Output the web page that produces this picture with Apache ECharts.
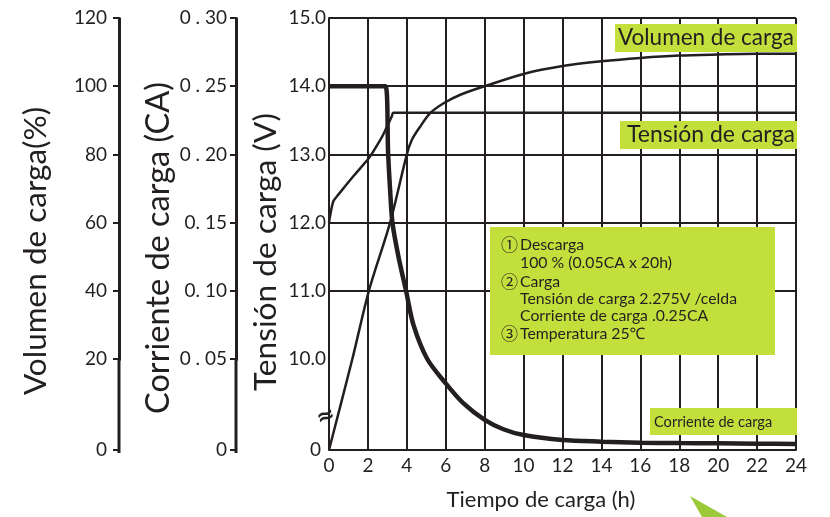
<!DOCTYPE html>
<html><head><meta charset="utf-8">
<script src="https://cdn.jsdelivr.net/npm/echarts@6/dist/echarts.min.js"></script>
<style>html,body{margin:0;padding:0;background:#fff}#c{width:830px;height:517px}</style>
</head><body><div id="c"></div>
<script>
// ---- data (hours, value) ----
const voltageV = [[0,12.0],[0.05,12.09],[0.22,12.31],[0.48,12.41],[1.25,12.68],[2.06,12.95],[2.63,13.21],[2.8,13.3],[3.23,13.56],[3.3,13.61],[24,13.61]];
const volumePct = [[0,0],[1.2,20],[2.05,40],[3.14,60],[4.0,80],[4.26,84.3],[4.69,88.2],[5.2,92.1],[5.89,95],[6.75,97.5],[8,100],[10,103.6],[12,105.9],[14,107.3],[16,108.3],[18,109],[20,109.3],[22,109.5],[24,109.5]];
const currentCA = [[0,0.25],[2.9,0.25],[3.04,0.20],[3.14,0.174],[3.26,0.15],[3.57,0.125],[3.96,0.10],[4.34,0.075],[5.05,0.05],[6.0,0.0366],[6.9,0.0257],[8.0,0.0165],[8.96,0.0114],[10,0.0082],[12,0.0055],[14,0.0046],[16,0.004],[18,0.0038],[20,0.0037],[22,0.0035],[24,0.0033]];
const infoLines = [
  ['①','Descarga'],
  ['','100 % (0.05CA x 20h)'],
  ['②','Carga'],
  ['','Tensión de carga 2.275V /celda'],
  ['','Corriente de carga .0.25CA'],
  ['③','Temperatura 25℃']
];
const FONT = 'Lato, "Noto Sans", sans-serif';
const INK = '#231f20';
const LIME = '#c2df3c';

const chart = echarts.init(document.getElementById('c'), null, {renderer:'canvas'});
const infoY = [245, 263, 281.5, 298.5, 316, 334];
const graphics = [
  {type:'text', x:36, y:251, rotation:Math.PI/2, style:{text:'Volumen de carga(%)', font:'31.5px '+FONT, fill:INK, textAlign:'center', textVerticalAlign:'middle'}},
  {type:'text', x:159, y:248, rotation:Math.PI/2, style:{text:'Corriente de carga (CA)', font:'32.5px '+FONT, fill:INK, textAlign:'center', textVerticalAlign:'middle'}},
  {type:'text', x:266, y:252, rotation:Math.PI/2, style:{text:'Tensión de carga (V)', font:'31.7px '+FONT, fill:INK, textAlign:'center', textVerticalAlign:'middle'}},
  {type:'text', x:541, y:500, style:{text:'Tiempo de carga (h)', font:'22px '+FONT, fill:INK, textAlign:'center', textVerticalAlign:'middle'}},
  {type:'rect', shape:{x:615,y:24,width:182,height:28}, style:{fill:LIME}, z:10},
  {type:'text', x:618, y:38, style:{text:'Volumen de carga', font:'22.5px '+FONT, fill:INK, textVerticalAlign:'middle'}, z:11},
  {type:'rect', shape:{x:620,y:121,width:177,height:28}, style:{fill:LIME}, z:10},
  {type:'text', x:627, y:135, style:{text:'Tensión de carga', font:'23px '+FONT, fill:INK, textVerticalAlign:'middle'}, z:11},
  {type:'rect', shape:{x:650,y:408,width:147,height:27}, style:{fill:LIME}, z:10},
  {type:'text', x:654, y:422, style:{text:'Corriente de carga', font:'14.6px '+FONT, fill:INK, textVerticalAlign:'middle'}, z:11},
  {type:'rect', shape:{x:490,y:227,width:285,height:128}, style:{fill:LIME}, z:10},
  {type:'text', x:326, y:417, rotation:0.35, style:{text:'≈', font:'bold 22px "DejaVu Sans", sans-serif', fill:INK, textAlign:'center', textVerticalAlign:'middle'}, z:11},
  {type:'polygon', shape:{points:[[690,496],[727,517],[702,517]]}, style:{fill:'#9cc93a'}, z:10}
];
infoLines.forEach((l,i)=>{
  if(l[0]) graphics.push({type:'text', x:501, y:infoY[i], style:{text:l[0], font:'17px "Noto Sans CJK JP", '+FONT, fill:INK, textVerticalAlign:'middle'}, z:11});
  graphics.push({type:'text', x:520, y:infoY[i], style:{text:l[1], font:'15.8px '+FONT, fill:INK, textVerticalAlign:'middle'}, z:11});
});

const axisText = {color:INK, fontFamily:FONT, fontSize:19};
chart.setOption({
  animation:false,
  grid:{left:329, right:34, top:18, bottom:67},
  xAxis:{type:'value', min:0, max:24, interval:2,
    axisLine:{lineStyle:{color:INK, width:2}}, axisTick:{show:false},
    splitLine:{lineStyle:{color:INK, width:2}},
    axisLabel:Object.assign({margin:6}, axisText)},
  yAxis:[
    {type:'value', position:'left', min:0, max:15, interval:1,
      breaks:[{start:0, end:10, gap:1.334}], breakArea:{show:false},
      axisLine:{show:true, lineStyle:{color:INK, width:2}}, axisTick:{show:false},
      splitLine:{lineStyle:{color:INK, width:2}},
      axisLabel:Object.assign({margin:3, formatter:v=>v===0?'0 ':v.toFixed(1)}, axisText)},
    {type:'value', position:'left', offset:93, min:0, max:0.30, interval:0.05,
      breaks:[{start:0, end:0.05, gap:0.0667}], breakArea:{show:false},
      axisLine:{show:true, lineStyle:{color:INK, width:3}},
      axisTick:{show:true, length:6, lineStyle:{color:INK, width:2}},
      splitLine:{show:false},
      axisLabel:Object.assign({margin:9, formatter:v=>{ if(v===0) return '0'; const s=v.toFixed(2); return s[2]==='1'? s.replace('.', '. ') : s.replace('.', ' . '); }}, axisText)},
    {type:'value', position:'left', offset:210, min:0, max:120, interval:20,
      breaks:[{start:0, end:20, gap:26.68}], breakArea:{show:false},
      axisLine:{show:true, lineStyle:{color:INK, width:3}},
      axisTick:{show:true, length:6, lineStyle:{color:INK, width:2}},
      splitLine:{show:false},
      axisLabel:Object.assign({margin:12}, axisText)}
  ],
  series:[
    {name:'Tensión de carga', type:'line', yAxisIndex:0, data:voltageV, showSymbol:false, smooth:0.25, lineStyle:{color:INK, width:2.5}, z:5},
    {name:'Volumen de carga', type:'line', yAxisIndex:2, data:volumePct, showSymbol:false, smooth:0.3, lineStyle:{color:INK, width:2.5}, z:5},
    {name:'Corriente de carga', type:'line', yAxisIndex:1, data:currentCA, showSymbol:false, smooth:0.3, lineStyle:{color:INK, width:4.5}, z:6}
  ],
  graphic:graphics
});

// draw the left axes' line through their broken (compressed) segment, positions from the axis scales
function axisSeg(idx, x, endVal){
  const y0 = chart.convertToPixel({yAxisIndex:idx}, 0);
  const y1 = chart.convertToPixel({yAxisIndex:idx}, endVal);
  return {type:'line', shape:{x1:x, y1:y0 + 3, x2:x, y2:y1}, style:{stroke:INK, lineWidth:3}, z:4};
}
const grid0 = chart.getModel().getComponent('grid').coordinateSystem.getRect();
chart.setOption({graphic: graphics.concat([
  axisSeg(1, grid0.x - 93, 0.05),
  axisSeg(2, grid0.x - 210, 20)
])});
</script></body></html>
